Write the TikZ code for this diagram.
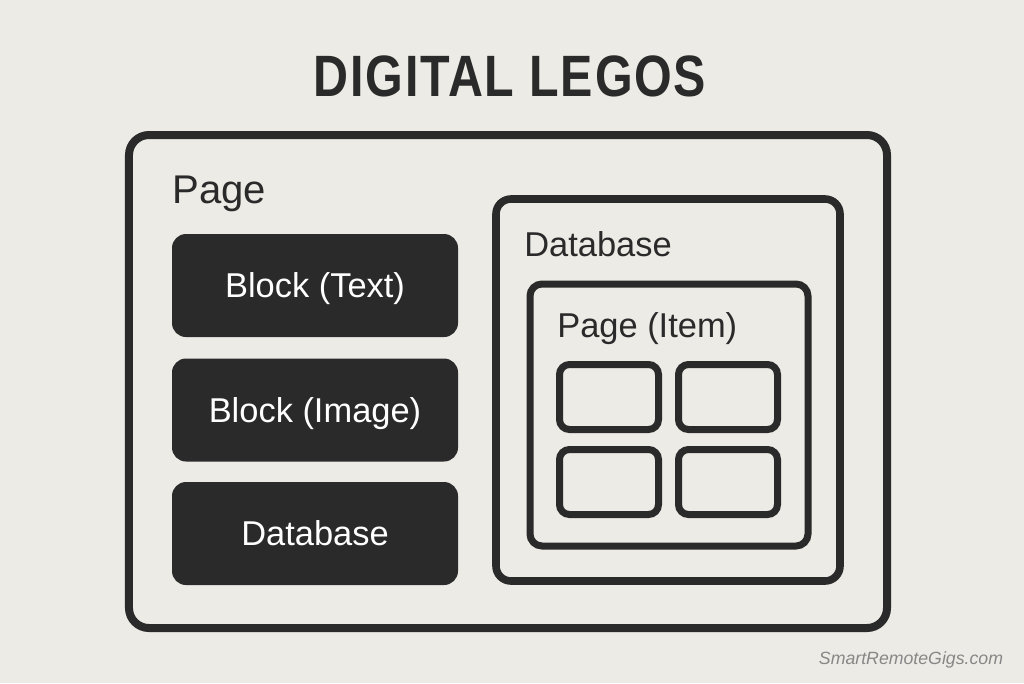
\documentclass[tikz,border=0pt]{standalone}
\usepackage{fontspec}
\setmainfont{Liberation Sans}
\newfontfamily\titlefont[FakeStretch=0.83, LetterSpace=3]{Liberation Sans}
\usepackage{tikz}
\definecolor{paper}{RGB}{237,235,230}
\definecolor{ink}{RGB}{42,42,42}
\definecolor{mark}{RGB}{135,135,135}

\begin{document}
\begin{tikzpicture}[x=0.25mm, y=-0.25mm,
  frame/.style={draw=ink, line width=1.8mm, rounded corners=3.5mm},
  block/.style={fill=ink, rounded corners=3.5mm, minimum width=71.5mm, minimum height=25.75mm,
    text=white, font=\fontsize{24.5}{28}\selectfont, text height=17.6pt, text depth=0pt},
  cell/.style={draw=ink, line width=1.75mm, rounded corners=2.5mm, minimum width=24.75mm, minimum height=16.25mm},
  caption/.style={text=ink, anchor=base west, inner sep=0pt, font=\fontsize{24.5}{28}\selectfont}]

% paper
\fill[paper] (0,0) rectangle (1024,683);

% title
\node[text=ink, anchor=base, inner sep=0pt, font=\titlefont\fontsize{41.5}{48}\bfseries] (title) at (510,96) {DIGITAL LEGOS};

% the page and what sits in it
\node[frame, line width=2mm, rounded corners=5mm, minimum width=189.5mm, minimum height=123.25mm] (page) at (508,381.5) {};
\node[caption, font=\fontsize{28.5}{32}\selectfont] (pagelbl) at (172,203) {Page};

\node[block] (btext) at (315,285.5) {Block (Text)};
\node[block] (bimage) at (315,410) {Block (Image)};
\node[block] (bdb) at (315,533.5) {Database};

% database holding a page item
\node[frame, line width=1.9mm, rounded corners=3.75mm, minimum width=86mm, minimum height=95.5mm] (db) at (668,390) {};
\node[caption] (dblbl) at (524,256) {Database};

\node[frame, line width=1.75mm, rounded corners=3mm, minimum width=69.5mm, minimum height=65.5mm] (item) at (669,415) {};
\node[caption] (itemlbl) at (557,337) {Page (Item)};

\node[cell] (c1) at (609,397) {};
\node[cell] (c2) at (728,397) {};
\node[cell] (c3) at (609,482) {};
\node[cell] (c4) at (728,482) {};

% watermark
\node[text=mark, inner sep=0pt, font=\fontsize{12.6}{14}\itshape] (site) at (911,660) {SmartRemoteGigs.com};

\end{tikzpicture}
\end{document}
